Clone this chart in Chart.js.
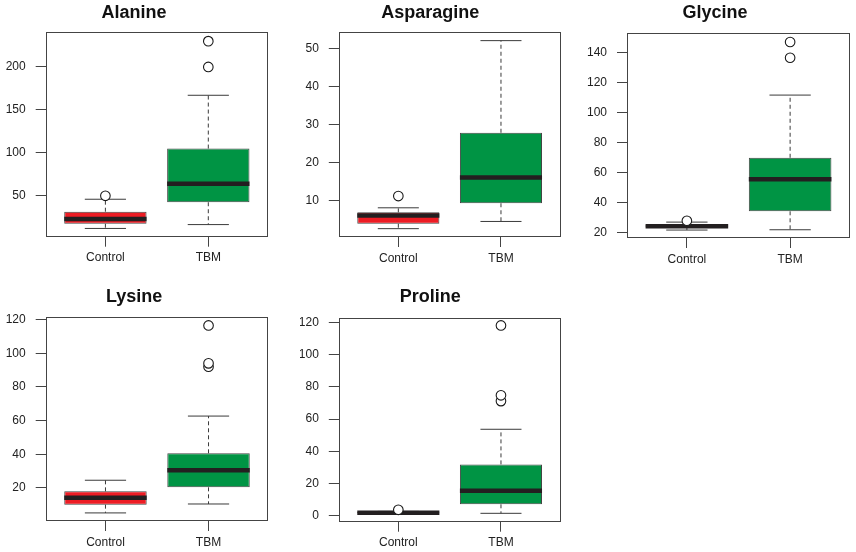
<!DOCTYPE html>
<html>
<head>
<meta charset="utf-8">
<script src="https://cdn.jsdelivr.net/npm/chart.js@4/dist/chart.umd.min.js"></script>
<style>
  html, body { margin: 0; padding: 0; background: #ffffff; }
  body { width: 856px; height: 552px; position: relative; overflow: hidden; }
  .panel { position: absolute; }
</style>
</head>
<body>
<script>
// ---------------- DATA ----------------
const groups = ['Control', 'TBM'];
const panelTitles = ['Alanine', 'Asparagine', 'Glycine', 'Lysine', 'Proline'];

// each box: [lower whisker, Q1, median, Q3, upper whisker]
const alanineStats    = [[12, 17.5, 23, 31.5, 46],   [16.5, 42.5, 64, 105, 167]];
const asparagineStats = [[2.5, 3.8, 6.0, 6.8, 8.0],  [4.4, 9.2, 16, 27.8, 52.1]];
const glycineStats    = [[21.5, 23.4, 24, 24.8, 26.8], [21.7, 34, 55.3, 69.7, 111.5]];
const lysineStats     = [[5.2, 10.1, 14.2, 18, 24.6], [10.5, 20.4, 30.5, 40.6, 62.7]];
const prolineStats    = [[1.2, 1.6, 1.9, 2.3, 2.7],  [1.5, 7.1, 15.5, 31.9, 53.7]];

const alanineOutliers    = [[50], [200, 230]];
const asparagineOutliers = [[11.1], []];
const glycineOutliers    = [[27.7], [136.4, 146.9]];
const lysineOutliers     = [[], [92, 94, 116.5]];
const prolineOutliers    = [[3.7], [71.2, 74.8, 118.2]];

const alanineTicks    = [50, 100, 150, 200];
const asparagineTicks = [10, 20, 30, 40, 50];
const glycineTicks    = [20, 40, 60, 80, 100, 120, 140];
const lysineTicks     = [20, 40, 60, 80, 100, 120];
const prolineTicks    = [0, 20, 40, 60, 80, 100, 120];

const alanineRange    = [2.4, 240.3];
const asparagineRange = [0.3, 54.3];
const glycineRange    = [16.2, 152.7];
const lysineRange     = [0.4, 121.7];
const prolineRange    = [-3.7, 123];

const allStats    = [alanineStats, asparagineStats, glycineStats, lysineStats, prolineStats];
const allOutliers = [alanineOutliers, asparagineOutliers, glycineOutliers, lysineOutliers, prolineOutliers];
const allTicks    = [alanineTicks, asparagineTicks, glycineTicks, lysineTicks, prolineTicks];
const allRanges   = [alanineRange, asparagineRange, glycineRange, lysineRange, prolineRange];

// ---------------- LAYOUT / STYLE ----------------
const panelLayout = [
  { left: 0,     top: 0,   w: 270, h: 276, yW: 45.7, xH: 39.3, padR: 2.0, tTop: 1.9, tBot: 8.8 },
  { left: 299.5, top: 0,   w: 262, h: 276, yW: 38.8, xH: 39.0, padR: 1.5, tTop: 1.9, tBot: 8.8 },
  { left: 580,   top: 0,   w: 272, h: 276, yW: 47.0, xH: 38.0, padR: 2.0, tTop: 1.9, tBot: 9.8 },
  { left: 0,     top: 276, w: 270, h: 276, yW: 45.7, xH: 31.0, padR: 1.7, tTop: 10.0, tBot: 9.1 },
  { left: 299.5, top: 276, w: 262, h: 276, yW: 38.8, xH: 30.3, padR: 1.5, tTop: 10.0, tBot: 10.1 }
];
const boxColors = ['#ED1C24', '#009444'];
const FONT = '"Liberation Sans", Arial, Helvetica, sans-serif';

const boxPlugin = {
  id: 'boxExtras',
  afterDatasetDraw(chart, args, opts) {
    if (args.index !== 0) return;
    const ctx = chart.ctx;
    const xs = chart.scales.x, ys = chart.scales.y;
    const meta = chart.getDatasetMeta(0);
    const seg = (x1, y1, x2, y2) => { ctx.beginPath(); ctx.moveTo(x1, y1); ctx.lineTo(x2, y2); ctx.stroke(); };
    opts.stats.forEach((s, i) => {
      const bar = meta.data[i];
      const cx = xs.getPixelForValue(i + 1);
      const half = bar.width / 2;
      const [lo, q1, med, q3, hi] = s;
      const pLo = ys.getPixelForValue(lo), pQ1 = ys.getPixelForValue(q1);
      const pMed = ys.getPixelForValue(med), pQ3 = ys.getPixelForValue(q3);
      const pHi = ys.getPixelForValue(hi);
      ctx.save();
      ctx.strokeStyle = '#3a3a3a';
      ctx.lineWidth = 1;
      ctx.setLineDash([4, 3]);
      seg(cx, pQ3, cx, pHi);
      seg(cx, pQ1, cx, pLo);
      ctx.setLineDash([]);
      seg(cx - half / 2, pHi, cx + half / 2, pHi);
      seg(cx - half / 2, pLo, cx + half / 2, pLo);
      ctx.strokeStyle = '#231f20';
      ctx.lineWidth = 4.5;
      ctx.lineCap = 'butt';
      seg(cx - half, pMed, cx + half, pMed);
      ctx.restore();
    });
  },
  afterDraw(chart) {
    const a = chart.chartArea, ctx = chart.ctx;
    ctx.save();
    ctx.strokeStyle = '#444';
    ctx.lineWidth = 1;
    const l = Math.round(a.left) + 0.5, t = Math.round(a.top) + 0.5;
    const r = Math.round(a.right) - 0.5, b = Math.round(a.bottom) - 0.5;
    ctx.strokeRect(l, t, r - l, b - t);
    ctx.restore();
  }
};

panelTitles.forEach((title, p) => {
  const L = panelLayout[p];
  const div = document.createElement('div');
  div.className = 'panel';
  div.style.left = L.left + 'px';
  div.style.top = L.top + 'px';
  div.style.width = L.w + 'px';
  div.style.height = L.h + 'px';
  const cv = document.createElement('canvas');
  cv.width = L.w; cv.height = L.h;
  cv.style.width = L.w + 'px'; cv.style.height = L.h + 'px';
  div.appendChild(cv);
  document.body.appendChild(div);

  const stats = allStats[p];
  const boxData = stats.map((s, i) => ({ x: i + 1, y: [s[1], s[3]] }));
  const outData = allOutliers[p].flatMap((arr, i) => arr.map(v => ({ x: i + 1, y: v })));
  const yTicks = allTicks[p];

  new Chart(cv, {
    type: 'bar',
    data: {
      datasets: [
        {
          type: 'bar',
          data: boxData,
          backgroundColor: boxColors,
          borderColor: '#444',
          borderWidth: 1,
          borderSkipped: false,
          barPercentage: 0.8,
          categoryPercentage: 1.0,
          order: 1
        },
        {
          type: 'scatter',
          data: outData,
          pointStyle: 'circle',
          pointRadius: 4.8,
          pointBackgroundColor: '#ffffff',
          pointBorderColor: '#1a1a1a',
          pointBorderWidth: 1.1,
          order: 0
        }
      ]
    },
    options: {
      responsive: false,
      animation: false,
      devicePixelRatio: 1,
      layout: { autoPadding: false, padding: { left: 0, right: L.padR, top: 0, bottom: 0 } },
      plugins: {
        legend: { display: false },
        tooltip: { enabled: false },
        title: {
          display: true,
          text: title,
          color: '#111',
          font: { family: FONT, size: 18, weight: 'bold', lineHeight: 1.2 },
          padding: { top: L.tTop, bottom: L.tBot }
        },
        boxExtras: { stats: stats }
      },
      scales: {
        x: {
          type: 'linear',
          min: 0.42,
          max: 2.58,
          offset: false,
          border: { display: false },
          grid: { display: true, offset: false, drawOnChartArea: false, drawTicks: true, tickLength: 10, color: '#444', lineWidth: 1 },
          afterBuildTicks: s => { s.ticks = groups.map((g, i) => ({ value: i + 1 })); },
          afterFit: s => { s.height = L.xH; s.paddingLeft = 0; s.paddingRight = 0; },
          ticks: {
            autoSkip: false,
            maxRotation: 0,
            padding: 4,
            color: '#222',
            font: { family: FONT, size: 12 },
            callback: v => groups[v - 1]
          }
        },
        y: {
          type: 'linear',
          min: allRanges[p][0],
          max: allRanges[p][1],
          border: { display: false },
          grid: { display: true, drawOnChartArea: false, drawTicks: true, tickLength: 10, color: '#444', lineWidth: 1 },
          afterBuildTicks: s => { s.ticks = yTicks.map(v => ({ value: v })); },
          afterFit: s => { s.width = L.yW; s.paddingTop = 0; s.paddingBottom = 0; },
          ticks: {
            padding: 10,
            color: '#222',
            font: { family: FONT, size: 12 },
            callback: v => String(v)
          }
        }
      }
    },
    plugins: [boxPlugin]
  });
});
</script>
</body>
</html>
